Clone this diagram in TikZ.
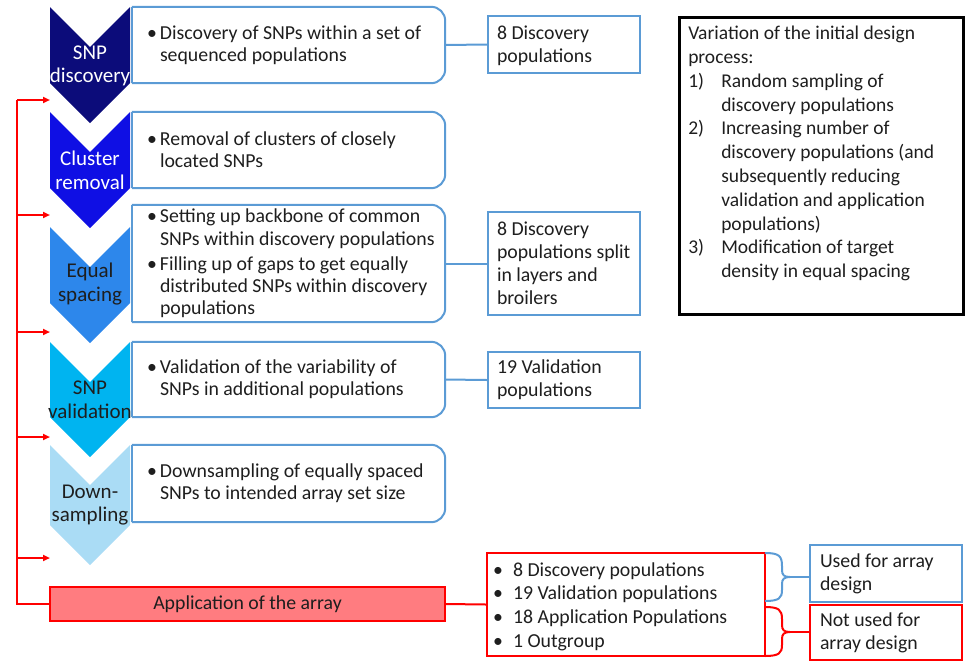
\documentclass[tikz,border=0pt]{standalone}
\usepackage{fontspec}
\setmainfont{Carlito}
\usetikzlibrary{arrows.meta}

\definecolor{chevA}{RGB}{12,12,122}
\definecolor{chevB}{RGB}{15,15,228}
\definecolor{chevC}{RGB}{45,135,235}
\definecolor{chevD}{RGB}{0,180,240}
\definecolor{chevE}{RGB}{170,220,245}
\definecolor{boxblue}{RGB}{91,155,213}
\definecolor{appred}{RGB}{255,124,128}
\definecolor{inkdark}{RGB}{30,30,30}

% text block of a given width that may run a little over it
\newcommand{\boxtext}[2]{\makebox[#1][l]{\parbox{\dimexpr #1+30pt\relax}{#2}}}
% bullet and numbered lines with hanging indent
\newcommand{\bitem}{\par\hangindent=13pt\hangafter=1\noindent\makebox[13pt][l]{\textbullet}}
\newcommand{\litem}{\par\hangindent=20pt\hangafter=1\noindent\makebox[20pt][l]{\textbullet}}
\newcommand{\vitem}[1]{\par\hangindent=33pt\hangafter=1\noindent\makebox[33pt][l]{#1}}

\tikzset{
  chevlbl/.style={align=center,font=\fontsize{21}{23.5}\selectfont},
  stepbox/.style={rectangle,minimum width=313pt,inner xsep=15pt,
    text=inkdark,font=\fontsize{19.8}{22.2}\selectfont},
  resbox/.style={rectangle,draw=boxblue,line width=2pt,minimum width=152pt,
    inner xsep=9pt,text=inkdark,font=\fontsize{19.8}{23}\selectfont},
  boxline/.style={draw=boxblue,line width=2pt},
  fb/.style={draw=red,line width=2pt},
}

\begin{document}
\begin{tikzpicture}[x=1pt,y=-1pt]
\useasboundingbox (0,0) rectangle (969,662);

% chevrons
\foreach \t/\b/\c in {7/83/chevA,112/188/chevB,227/303/chevC,342/417/chevD,445/525/chevE}
  \fill[\c] (50,\t) -- (90,\t+40) -- (130,\t) -- (130,\b) -- (90,\b+40) -- (50,\b) -- cycle;

\node[chevlbl,text=white] (c1) at (90,66) {SNP\\discovery};
\node[chevlbl,text=white] (c2) at (90,170.5) {Cluster\\removal};
\node[chevlbl,text=inkdark] (c3) at (90,284) {Equal\\spacing};
\node[chevlbl,text=inkdark] (c4) at (90,400) {SNP\\validation};
\node[chevlbl,text=inkdark] (c5) at (90,505) {Down-\\sampling};

% step boxes
\node[stepbox,minimum height=76pt] (b1) at (288.5,45)
  {\boxtext{283pt}{\bitem Discovery of SNPs within a set of\\sequenced populations}};
\node[stepbox,minimum height=76pt] (b2) at (288.5,150)
  {\boxtext{283pt}{\bitem Removal of clusters of closely\\located SNPs}};
\node[stepbox,minimum height=117pt] (b3) at (288.5,263.5)
  {\boxtext{283pt}{\bitem Setting up backbone of common\\SNPs within discovery populations\par\vspace{3pt}
   \bitem Filling up of gaps to get equally\\distributed SNPs within discovery\\populations}};
\node[stepbox,minimum height=75pt] (b4) at (288.5,379.5)
  {\boxtext{283pt}{\bitem Validation of the variability of\\SNPs in additional populations}};
\node[stepbox,minimum height=77pt] (b5) at (288.5,483.5)
  {\boxtext{283pt}{\bitem Downsampling of equally spaced\\SNPs to intended array set size}};

\foreach \b in {b1,b2,b3,b4,b5} {
  \draw[boxline,rounded corners=14pt] (\b.north west) -- (\b.north east) -- (\b.south east) -- (\b.south west);
  \draw[boxline] (\b.north west) -- (\b.south west);
}

% populations per step
\node[resbox,minimum height=57pt] (A) at (564,44.5) {\boxtext{134pt}{\vspace*{2pt}8 Discovery\\populations}};
\node[resbox,minimum height=103pt] (B) at (564,263.5) {\boxtext{134pt}{8 Discovery\\populations split\\in layers and\\broilers}};
\node[resbox,minimum height=56pt] (C) at (564,380) {\boxtext{134pt}{19 Validation\\populations}};

\draw[boxline] (b1.east) -- (A.west);
\draw[boxline] (b3.east) -- (B.west);
\draw[boxline] (b4.east) -- (C.west);

% variations
\node[draw=black,line width=2.5pt,anchor=north west,inner xsep=9pt,inner ysep=9pt,text=inkdark] (V) at (678,16)
  {\parbox[t][279pt][t]{266pt}{\fontsize{19.5}{23.8}\selectfont
   \noindent Variation of the initial design\\process:
   \vitem{1)}Random sampling of\\discovery populations
   \vitem{2)}Increasing number of\\discovery populations (and\\subsequently reducing\\validation and application\\populations)
   \vitem{3)}Modification of target\\density in equal spacing}};

% application
\node[draw=red,fill=appred,line width=2pt,minimum width=395pt,minimum height=34pt,
  text=inkdark,font=\fontsize{19.8}{22}\selectfont] (App) at (247.5,604) {Application of the array};

\node[draw=red,line width=2pt,minimum width=278pt,minimum height=103pt,
  inner xsep=6pt,text=inkdark,font=\fontsize{19.8}{23.6}\selectfont] (L) at (626,604.5)
  {\boxtext{266pt}{\vspace*{4pt}\litem 8 Discovery populations\litem 19 Validation populations
   \litem 18 Application Populations\litem 1 Outgroup}};

\node[resbox,minimum height=57pt,inner xsep=10pt] (U) at (886,573.5) {\boxtext{132pt}{Used for array\\design}};
\node[resbox,draw=red,minimum height=55pt,inner xsep=10pt] (N) at (886,632.5) {\boxtext{132pt}{Not used for\\array design}};

% feedback loop
\coordinate (fbtop) at (17,100);
\draw[fb] (fbtop) |- (App.west);
\foreach \y in {100,215,332,437,558}
  \draw[fb,-{Triangle[length=7pt,width=6pt]}] (fbtop |- 0,\y) -- (50,\y);
\draw[fb] (App.east) -- (L.west);

% braces
\coordinate (ubc) at (790,577);
\coordinate (nbc) at (790,632);
\draw[boxline] (765,553) .. controls (779,553) and (782,556) .. (782,566) -- (782,570)
  .. controls (782,575) and (784,577) .. (ubc)
  .. controls (784,577) and (782,579) .. (782,584) -- (782,590)
  .. controls (782,598) and (779,601) .. (765,601);
\draw[boxline] (ubc) -- (ubc -| U.west);
\draw[fb] (765,607) .. controls (779,607) and (782,610) .. (782,619) -- (782,625)
  .. controls (782,630) and (784,632) .. (nbc)
  .. controls (784,632) and (782,634) .. (782,639) -- (782,645)
  .. controls (782,653) and (779,656) .. (765,656);
\draw[fb] (nbc) -- (nbc -| N.west);
\end{tikzpicture}
\end{document}
